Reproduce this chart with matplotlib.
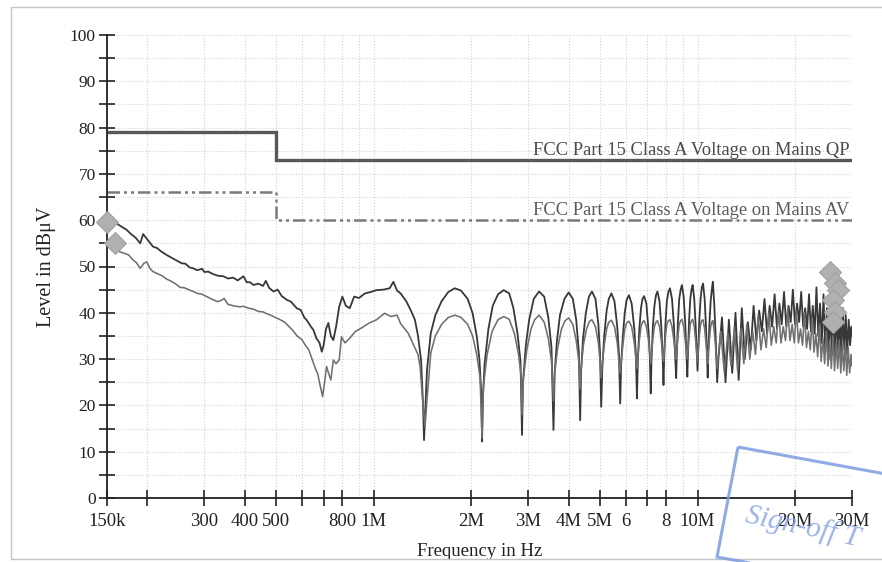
import matplotlib
matplotlib.use("Agg")
import matplotlib.pyplot as plt
from matplotlib.ticker import FixedLocator, FixedFormatter, MultipleLocator, LogLocator, NullFormatter
from matplotlib.patches import Rectangle, Polygon

plt.rcParams['font.family'] = ['Liberation Serif', 'DejaVu Serif']

# ---------------- data (frequency in MHz, level in dBuV) ----------------
limit_qp_f = [0.15, 0.5, 0.5, 30.0]
limit_qp_db = [79.0, 79.0, 73.0, 73.0]
limit_av_f = [0.15, 0.5, 0.5, 30.0]
limit_av_db = [66.0, 66.0, 60.0, 60.0]

peak_f = [
    0.150, 0.156, 0.163, 0.168, 0.172, 0.178, 0.184, 0.190, 0.194, 0.199,
    0.204, 0.208, 0.214, 0.220, 0.229, 0.236, 0.245, 0.255, 0.262, 0.270,
    0.277, 0.285, 0.295, 0.300, 0.308, 0.318, 0.330, 0.343, 0.355, 0.368,
    0.380, 0.396, 0.405, 0.415, 0.425, 0.440, 0.455, 0.464, 0.475, 0.490,
    0.505, 0.520, 0.539, 0.555, 0.578, 0.595, 0.610, 0.621, 0.640, 0.651,
    0.665, 0.680, 0.691, 0.700, 0.712, 0.724, 0.737, 0.750, 0.765, 0.782,
    0.800, 0.820, 0.843, 0.870, 0.900, 0.940, 0.980, 1.02, 1.07, 1.12,
    1.15, 1.18, 1.21, 1.26, 1.30, 1.34, 1.37, 1.40, 1.42,
    1.43, 1.445, 1.46, 1.50, 1.55, 1.62, 1.70, 1.78, 1.86, 1.95, 2.02, 2.08, 2.12, 2.15,
    2.16, 2.175, 2.20, 2.26, 2.33, 2.42, 2.52, 2.62, 2.70, 2.78, 2.84,
    2.87, 2.89, 2.95, 3.02, 3.12, 3.24, 3.36, 3.46, 3.54,
    3.59, 3.62, 3.68, 3.76, 3.88, 4.00, 4.12, 4.22, 4.30,
    4.34, 4.37, 4.43, 4.52, 4.62, 4.72, 4.84, 4.94, 5.00,
    5.04, 5.08, 5.15, 5.24, 5.32, 5.42, 5.54, 5.65, 5.72,
    5.77, 5.81, 5.88, 5.96, 6.04, 6.14, 6.26, 6.38, 6.45,
    6.50, 6.54, 6.61, 6.69, 6.76, 6.84, 6.95, 7.06, 7.12,
    7.17, 7.21, 7.28, 7.36, 7.44, 7.52, 7.63, 7.73, 7.80,
    7.85, 7.89, 7.96, 8.04, 8.13, 8.22, 8.34, 8.45, 8.53,
    8.59, 8.63, 8.70, 8.78, 8.87, 8.95, 9.06, 9.16, 9.24,
    9.30, 9.34, 9.42, 9.50, 9.58, 9.66, 9.77, 9.87, 9.95,
    10.0, 10.05, 10.13, 10.22, 10.31, 10.40, 10.52, 10.62, 10.70,
    10.75, 10.80, 10.89, 10.98, 11.07, 11.15, 11.26, 11.36, 11.44,
    11.50, 11.6, 11.9, 12.2, 12.5, 12.8, 13.1, 13.4, 13.7, 14.0, 14.3,
    14.6, 14.9, 15.2, 15.5, 15.8, 16.1, 16.4, 16.7, 17.0, 17.3,
    17.6, 17.9, 18.2, 18.5, 18.8, 19.1, 19.4, 19.7, 20.0, 20.3,
    20.6, 20.9, 21.2, 21.5, 21.8, 22.1, 22.4, 22.7, 23.0, 23.3,
    23.6, 23.9, 24.2, 24.5, 24.8, 25.1, 25.4, 25.7, 26.0, 26.3,
    26.6, 26.9, 27.2, 27.5, 27.8, 28.1, 28.4, 28.7, 29.0, 29.3,
    29.6, 29.9, 30.0,
]
peak_db = [
    60.8, 60.0, 59.0, 58.4, 58.0, 57.0, 56.2, 55.0, 57.0, 56.0,
    55.0, 54.3, 54.0, 53.3, 52.5, 52.0, 51.4, 50.7, 50.6, 49.8,
    49.6, 49.2, 49.5, 48.8, 48.9, 48.4, 48.0, 47.9, 47.4, 47.6,
    47.0, 47.9, 46.6, 46.6, 46.0, 46.3, 45.8, 46.9, 45.4, 44.6,
    45.0, 43.6, 42.8, 42.4, 41.0, 40.6, 39.0, 38.4, 37.0, 36.3,
    34.5, 33.5, 31.6, 33.0, 36.5, 37.8, 35.0, 34.1, 37.0, 41.3,
    43.5, 41.5, 41.0, 43.5, 43.2, 44.2, 44.5, 44.9, 45.0, 45.3,
    46.7, 44.8, 44.2, 42.5, 40.6, 38.5, 35.0, 29.8, 20.0,
    12.5, 20.0, 27.6, 35.6, 39.5, 42.5, 44.5, 45.3, 44.8, 43.0, 39.9, 35.0, 30.0, 22.0,
    12.2, 22.0, 29.0, 36.5, 41.5, 44.0, 44.9, 44.2, 41.0, 35.5, 29.5,
    13.6, 25.0, 33.0, 38.5, 43.0, 44.6, 43.5, 39.0, 32.5,
    14.7, 27.0, 34.0, 39.5, 43.0, 44.4, 43.0, 38.5, 31.5,
    16.8, 27.5, 34.5, 40.0, 43.5, 44.6, 43.0, 37.5, 31.0,
    19.7, 28.0, 35.0, 40.5, 43.0, 44.2, 42.5, 37.0, 31.0,
    20.4, 29.0, 35.0, 40.0, 42.8, 43.8, 42.0, 36.5, 31.0,
    21.5, 29.5, 36.5, 41.0, 43.0, 43.6, 42.0, 36.0, 31.0,
    22.6, 30.0, 37.0, 41.5, 43.8, 44.6, 42.5, 37.0, 31.0,
    24.4, 30.5, 37.5, 42.5, 44.5, 45.3, 43.0, 37.5, 31.0,
    25.9, 31.0, 38.0, 43.0, 45.0, 46.0, 43.5, 38.0, 31.5,
    26.2, 31.0, 38.5, 43.0, 45.0, 46.0, 43.0, 37.0, 31.0,
    27.5, 32.0, 38.5, 43.0, 45.5, 46.3, 43.0, 37.0, 31.0,
    26.0, 31.5, 38.0, 42.5, 45.0, 46.7, 42.0, 36.0, 30.0,
    25.0, 30.0, 39.0, 25.0, 38.5, 27.0, 40.0, 25.5, 41.0, 30.0, 38.0,
    32.0, 41.5, 34.0, 40.5, 36.0, 43.0, 35.5, 41.5, 37.0, 44.0,
    36.5, 42.0, 37.5, 44.5, 37.0, 41.5, 38.0, 45.0, 37.5, 42.0,
    38.0, 44.5, 37.0, 41.0, 36.5, 44.0, 36.0, 41.5, 35.5, 45.5,
    35.0, 42.0, 33.5, 44.0, 31.5, 41.0, 30.0, 42.0, 31.0, 40.5,
    30.5, 41.0, 31.5, 40.0, 30.5, 41.0, 32.0, 39.5, 31.0, 38.5,
    33.0, 37.0, 35.0,
]

avg_f = [
    0.159, 0.164, 0.170, 0.175, 0.180, 0.185, 0.190, 0.195, 0.199, 0.204,
    0.208, 0.214, 0.222, 0.229, 0.237, 0.245, 0.252, 0.260, 0.268, 0.277,
    0.285, 0.295, 0.305, 0.315, 0.330, 0.340, 0.345, 0.355, 0.370, 0.385,
    0.397, 0.410, 0.425, 0.440, 0.455, 0.464, 0.480, 0.496, 0.511, 0.530,
    0.548, 0.565, 0.580, 0.600, 0.615, 0.630, 0.645, 0.660, 0.671, 0.682,
    0.695, 0.705, 0.715, 0.725, 0.737, 0.750, 0.765, 0.782, 0.795, 0.815,
    0.843, 0.875, 0.920, 0.963, 1.02, 1.08, 1.13, 1.18, 1.21, 1.28,
    1.32, 1.37, 1.39, 1.42,
    1.44, 1.46, 1.50, 1.55, 1.62, 1.70, 1.78, 1.86, 1.95, 2.02, 2.08, 2.13,
    2.16, 2.18, 2.24, 2.32, 2.42, 2.52, 2.62, 2.72, 2.80, 2.85,
    2.87, 2.90, 2.97, 3.06, 3.14, 3.24, 3.36, 3.46, 3.54,
    3.59, 3.62, 3.70, 3.80, 3.90, 4.00, 4.12, 4.22, 4.30,
    4.34, 4.37, 4.44, 4.54, 4.64, 4.72, 4.84, 4.94, 5.00,
    5.04, 5.08, 5.15, 5.24, 5.32, 5.42, 5.54, 5.65, 5.72,
    5.77, 5.81, 5.88, 5.96, 6.04, 6.14, 6.26, 6.38, 6.45,
    6.50, 6.54, 6.61, 6.69, 6.76, 6.84, 6.95, 7.06, 7.12,
    7.17, 7.21, 7.28, 7.36, 7.44, 7.52, 7.63, 7.73, 7.80,
    7.85, 7.89, 7.96, 8.04, 8.13, 8.22, 8.34, 8.45, 8.53,
    8.59, 8.63, 8.70, 8.78, 8.87, 8.95, 9.06, 9.16, 9.24,
    9.30, 9.34, 9.42, 9.50, 9.58, 9.66, 9.77, 9.87, 9.95,
    10.0, 10.05, 10.13, 10.22, 10.31, 10.40, 10.52, 10.62, 10.70,
    10.75, 10.80, 10.89, 10.98, 11.07, 11.15, 11.26, 11.36, 11.44,
    11.50, 11.8, 12.1, 12.4, 12.7, 13.0, 13.3, 13.6, 13.9, 14.2,
    14.5, 14.8, 15.1, 15.4, 15.7, 16.0, 16.3, 16.6, 16.9, 17.2,
    17.5, 17.8, 18.1, 18.4, 18.7, 19.0, 19.3, 19.6, 19.9, 20.2,
    20.5, 20.8, 21.1, 21.4, 21.7, 22.0, 22.3, 22.6, 22.9, 23.2,
    23.5, 23.8, 24.1, 24.4, 24.7, 25.0, 25.3, 25.6, 25.9, 26.2,
    26.5, 26.8, 27.1, 27.4, 27.7, 28.0, 28.3, 28.6, 28.9, 29.2,
    29.5, 29.8, 30.0,
]
avg_db = [
    54.6, 53.2, 52.8, 52.5, 51.5, 50.8, 49.6, 50.7, 51.0, 49.5,
    48.9, 48.5, 48.0, 47.3, 46.8, 46.2, 45.5, 45.4, 45.0, 44.6,
    44.2, 44.0, 43.5, 43.0, 42.4, 42.8, 43.1, 41.8, 41.5, 41.3,
    41.4, 41.0, 40.8, 40.3, 40.2, 39.9, 39.5, 39.0, 38.6, 38.0,
    37.0, 36.0, 35.0, 34.2, 33.0, 32.0, 30.0, 28.0, 26.9, 24.5,
    21.9, 25.0, 28.4, 27.0, 25.5, 29.8, 29.0, 29.8, 34.8, 33.5,
    34.5, 35.9, 36.8, 37.7, 38.5, 39.9, 39.2, 39.5, 37.7, 35.5,
    33.4, 31.0, 28.4, 20.0,
    15.4, 21.2, 31.3, 35.0, 37.5, 39.0, 39.5, 39.0, 37.5, 35.0, 31.0, 26.0,
    13.0, 24.0, 31.0, 36.0, 38.5, 39.2, 38.6, 35.5, 31.0, 26.5,
    18.0, 26.0, 32.0, 36.5, 38.5, 39.5, 38.0, 34.5, 29.5,
    21.0, 27.0, 32.5, 36.5, 38.3, 38.9, 37.5, 34.0, 29.5,
    23.5, 28.0, 33.0, 36.5, 38.2, 38.5, 37.0, 33.5, 29.5,
    26.0, 29.0, 33.0, 36.5, 38.0, 38.4, 37.0, 33.5, 29.5,
    27.0, 29.5, 33.0, 36.5, 37.8, 38.2, 37.0, 33.5, 30.0,
    28.0, 30.5, 34.0, 37.0, 38.0, 38.3, 37.0, 34.0, 31.0,
    29.0, 31.0, 34.5, 37.0, 38.0, 38.3, 37.0, 34.0, 31.0,
    29.5, 31.5, 35.0, 37.5, 38.3, 38.5, 37.0, 34.0, 31.5,
    30.0, 32.0, 35.0, 37.5, 38.3, 38.6, 37.0, 34.0, 31.5,
    30.0, 32.0, 35.0, 37.5, 38.3, 38.6, 37.0, 34.0, 31.0,
    29.5, 32.0, 35.0, 37.5, 38.3, 38.5, 36.5, 33.5, 30.5,
    29.0, 31.5, 34.5, 37.0, 38.0, 38.3, 36.0, 33.0, 30.0,
    28.0, 36.0, 27.0, 35.5, 28.5, 37.0, 27.5, 36.5, 29.0, 37.5,
    30.0, 36.0, 31.0, 39.5, 32.0, 36.5, 32.5, 40.0, 33.0, 37.0,
    33.5, 40.5, 33.5, 37.0, 34.0, 41.0, 34.0, 37.5, 33.5, 40.5,
    33.5, 36.5, 33.0, 40.0, 32.5, 36.0, 32.0, 39.0, 31.5, 35.5,
    30.5, 37.5, 29.5, 34.5, 29.0, 36.0, 28.5, 34.0, 28.0, 35.0,
    27.5, 33.5, 28.0, 34.0, 27.0, 33.0, 27.5, 33.5, 26.5, 32.5,
    27.0, 31.0, 28.5,
]

final_f = [0.150, 0.159, 25.7, 26.6, 27.1, 26.2, 26.6, 26.2]
final_db = [59.6, 55.1, 48.9, 46.4, 44.9, 42.8, 40.2, 38.1]

x_ticks = [0.15, 0.2, 0.3, 0.4, 0.5, 0.6, 0.7, 0.8, 1, 2, 3, 4, 5, 6, 7, 8, 10, 20, 30]
x_labels = ['150k', '', '300', '400', '500', '', '', '800', '1M', '2M', '3M',
            '4M', '5M', '6', '', '8', '10M', '20M', '30M']
y_ticks = [0, 10, 20, 30, 40, 50, 60, 70, 80, 90, 100]

qp_label = 'FCC Part 15 Class A Voltage on Mains QP'
av_label = 'FCC Part 15 Class A Voltage on Mains AV'

# ---------------- figure ----------------
W, H = 882, 562
fig = plt.figure(figsize=(W / 100, H / 100), dpi=100)
fig.patch.set_facecolor('white')

# page border (scan frame)
fig.patches.append(Rectangle((11 / W, 3 / H), 1.2, (559 - 7) / H, transform=fig.transFigure,
                             fill=False, edgecolor='#c4c4c4', lw=1.0))

ax = fig.add_axes([107 / W, (H - 498) / H, (852 - 107) / W, (498 - 35) / H])
ax.set_xscale('log')
MHz = 1e6

ax.plot([f * MHz for f in peak_f], peak_db, color='#383838', lw=1.3, zorder=3)
ax.plot([f * MHz for f in avg_f], avg_db, color='#707070', lw=1.15, zorder=4)

ax.plot([f * MHz for f in limit_qp_f], limit_qp_db, color='#585858', lw=2.4, zorder=2,
        solid_joinstyle='miter')
ax.plot([f * MHz for f in limit_av_f], limit_av_db, color='#7a7a7a', lw=1.8, zorder=2,
        dashes=[5, 1.6, 1.2, 1.6, 1.2, 1.6])

ax.plot([f * MHz for f in final_f], final_db, linestyle='none', marker='D', markersize=11,
        markerfacecolor='#b0b0b0', markeredgecolor='#a0a0a0', markeredgewidth=0.8,
        zorder=5, clip_on=False)

ax.text(29.4 * MHz, 73.3, qp_label, ha='right', va='bottom', fontsize=13.3, color='#4a4a4a')
ax.text(29.4 * MHz, 60.3, av_label, ha='right', va='bottom', fontsize=13.3, color='#5a5a5a')

ax.set_xlim(0.15 * MHz, 30 * MHz)
ax.set_ylim(0, 100)

ax.xaxis.set_major_locator(FixedLocator([t * MHz for t in x_ticks]))
ax.xaxis.set_major_formatter(FixedFormatter(x_labels))
ax.xaxis.set_minor_locator(LogLocator(base=10, subs=tuple(range(1, 10)), numticks=20))
ax.xaxis.set_minor_formatter(NullFormatter())
ax.yaxis.set_major_locator(FixedLocator(y_ticks))
ax.yaxis.set_minor_locator(MultipleLocator(5))

ax.tick_params(axis='both', which='major', direction='inout', length=12, width=1.2,
               color='#222222', labelcolor='#222222')
ax.tick_params(axis='y', which='minor', direction='inout', length=12, width=1.2, color='#222222')
ax.tick_params(axis='x', which='minor', length=0)
ax.tick_params(axis='x', which='major', pad=5, labelsize=13.5)
ax.tick_params(axis='y', which='major', pad=2, labelsize=12.5)

ax.grid(True, which='both', axis='both', color='#d2d2d2', linestyle=':', lw=0.8)
ax.set_axisbelow(True)

for s in ('top', 'right'):
    ax.spines[s].set_visible(False)
for s in ('left', 'bottom'):
    ax.spines[s].set_color('#222222')
    ax.spines[s].set_linewidth(1.3)

ax.set_xlabel('Frequency in Hz', fontsize=13.5, color='#222222', labelpad=9)
ax.set_ylabel('Level in dBμV', fontsize=14.5, color='#222222', labelpad=10)

# blue sign-off stamp (scanned overlay)
corners = [(738, 447), (935, 483), (914, 593), (717, 557)]
fig.patches.append(Polygon([(x / W, 1 - y / H) for x, y in corners], closed=True,
                           transform=fig.transFigure, fill=False,
                           edgecolor='#7d9ce0', lw=2.2, alpha=0.85))
fig.text(744 / W, 1 - 522 / H, 'Sign-off T', fontsize=21, color='#8aa6e6', alpha=0.85,
         rotation=-12, rotation_mode='anchor', ha='left', va='baseline',
         style='italic')

fig.savefig('out.png', dpi=100)
